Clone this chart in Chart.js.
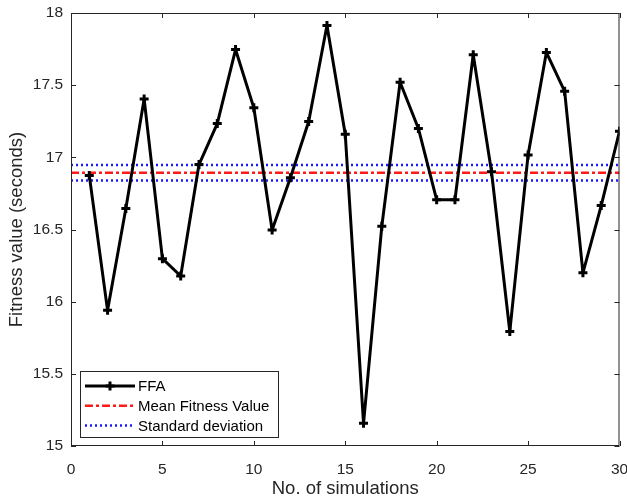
<!DOCTYPE html>
<html>
<head>
<meta charset="utf-8">
<script src="https://cdn.jsdelivr.net/npm/chart.js@4/dist/chart.umd.min.js"></script>
<style>
	html, body { margin: 0; padding: 0; background: #fff; }
	#wrap { width: 627px; height: 503px; }
</style>
</head>
<body>
<div id="wrap"><canvas id="mycanvas" width="627" height="503"></canvas></div>
<script>
// run number 1..30 and the fitness value read for each one
const runs = [1, 2, 3, 4, 5, 6, 7, 8, 9, 10, 11, 12, 13, 14, 15, 16, 17, 18, 19, 20, 21, 22, 23, 24, 25, 26, 27, 28, 29, 30];
const fitness = [16.875, 15.94, 16.646, 17.405, 16.298, 16.178, 16.95, 17.234, 17.747, 17.343,
	16.497, 16.858, 17.248, 17.914, 17.16, 15.157, 16.523, 17.52, 17.2, 16.706,
	16.706, 17.711, 16.9, 15.793, 17.017, 17.727, 17.457, 16.2, 16.666, 17.18];
const meanLevel = [16.893];
const stdLevels = [16.947, 16.84];
const xRange = [0, 30];
const xTicks = [0, 5, 10, 15, 20, 25, 30];
const yTicks = [15, 15.5, 16, 16.5, 17, 17.5, 18];

const axisColor = '#262626';
const fontFamily = 'Arial, "Liberation Sans", sans-serif';

Chart.defaults.font.family = fontFamily;
Chart.defaults.color = axisColor;

// horizontal reference line spanning the x range
const hline = (level) => xRange.map((x) => ({ x, y: level }));

// MATLAB style box with inward ticks on all four sides, plus the legend in the lower left
const boxAndLegend = {
	id: 'boxAndLegend',
	afterDraw(chart) {
		const { ctx, chartArea: a, scales } = chart;
		ctx.save();
		ctx.strokeStyle = axisColor;
		ctx.lineWidth = 1;
		ctx.strokeRect(a.left + 0.5, a.top + 0.5, a.right - a.left - 1, a.bottom - a.top - 1);
		const tl = 5;
		ctx.beginPath();
		xTicks.forEach((v) => {
			const px = Math.round(scales.x.getPixelForValue(v)) + 0.5;
			ctx.moveTo(px, a.bottom); ctx.lineTo(px, a.bottom - tl);
			ctx.moveTo(px, a.top); ctx.lineTo(px, a.top + tl);
		});
		yTicks.forEach((v) => {
			const py = Math.round(scales.y.getPixelForValue(v)) + 0.5;
			ctx.moveTo(a.left, py); ctx.lineTo(a.left + tl, py);
			ctx.moveTo(a.right, py); ctx.lineTo(a.right - tl, py);
		});
		ctx.stroke();

		// legend
		const entries = chart.data.datasets.filter((d) => !d.hideInLegend);
		const bx = a.left + 9, by = a.bottom - 75, bw = 198, bh = 66;
		ctx.fillStyle = '#fff';
		ctx.fillRect(bx, by, bw, bh);
		ctx.strokeRect(bx + 0.5, by + 0.5, bw, bh);
		ctx.font = '15px ' + fontFamily;
		ctx.textBaseline = 'middle';
		entries.forEach((d, i) => {
			const cy = by + 15 + i * 19.7;
			ctx.save();
			ctx.strokeStyle = d.borderColor;
			ctx.lineWidth = d.borderWidth;
			ctx.setLineDash(d.borderDash || []);
			ctx.beginPath();
			ctx.moveTo(bx + 5, cy);
			ctx.lineTo(bx + 55, cy);
			ctx.stroke();
			if (d.pointStyle === 'cross') {
				ctx.setLineDash([]);
				ctx.lineWidth = d.pointBorderWidth;
				ctx.beginPath();
				ctx.moveTo(bx + 30, cy - 4.5); ctx.lineTo(bx + 30, cy + 4.5);
				ctx.moveTo(bx + 25.5, cy); ctx.lineTo(bx + 34.5, cy);
				ctx.stroke();
			}
			ctx.restore();
			ctx.fillStyle = '#000';
			ctx.fillText(d.label, bx + 58, cy + 1);
		});
		ctx.restore();
	},
};

new Chart(document.getElementById('mycanvas'), {
	type: 'line',
	data: {
		datasets: [
			{
				label: 'FFA',
				data: runs.map((r, i) => ({ x: r, y: fitness[i] })),
				borderColor: '#000',
				backgroundColor: '#000',
				borderWidth: 3,
				borderJoinStyle: 'round',
				pointStyle: 'cross',
				pointRadius: 4.5,
				pointBorderWidth: 3,
				pointBorderColor: '#000',
				tension: 0,
				order: 0,
			},
			{
				label: 'Mean Fitness Value',
				data: hline(meanLevel[0]),
				borderColor: '#ff1a1a',
				borderWidth: 2.5,
				borderDash: [8, 3, 3, 3],
				pointRadius: 0,
				order: 1,
			},
			{
				label: 'Standard deviation',
				data: hline(stdLevels[0]),
				borderColor: '#1a1aff',
				borderWidth: 2.5,
				borderDash: [2, 3],
				pointRadius: 0,
				order: 2,
			},
			{
				label: 'Standard deviation',
				data: hline(stdLevels[1]),
				borderColor: '#1a1aff',
				borderWidth: 2.5,
				borderDash: [2, 3],
				pointRadius: 0,
				order: 2,
				hideInLegend: true,
			},
		],
	},
	options: {
		responsive: false,
		animation: false,
		devicePixelRatio: 1,
		layout: { padding: { left: 0, top: 13, right: 7, bottom: 0 } },
		plugins: {
			legend: { display: false },
			tooltip: { enabled: false },
		},
		scales: {
			x: {
				type: 'linear',
				min: xRange[0],
				max: xRange[1],
				afterBuildTicks: (scale) => { scale.ticks = xTicks.map((v) => ({ value: v })); },
				ticks: { font: { size: 15.5 }, padding: 14, maxRotation: 0, autoSkip: false, callback: (v) => String(v) },
				grid: { display: false, drawTicks: false },
				border: { display: false },
				title: { display: true, text: 'No. of simulations', font: { size: 18.5 }, padding: { top: 0, bottom: 3 } },
				afterFit: (scale) => { scale.height = 57; scale.paddingLeft = 0; scale.paddingRight = 0; },
			},
			y: {
				min: 15,
				max: 18,
				afterBuildTicks: (scale) => { scale.ticks = yTicks.map((v) => ({ value: v })); },
				ticks: { font: { size: 15.5 }, padding: 8, autoSkip: false, callback: (v) => String(v) },
				grid: { display: false, drawTicks: false },
				border: { display: false },
				title: { display: true, text: 'Fitness value (seconds)', font: { size: 18.5 }, padding: { top: 6, bottom: 0 } },
				afterFit: (scale) => { scale.width = 71; scale.paddingTop = 0; scale.paddingBottom = 0; },
			},
		},
	},
	plugins: [boxAndLegend],
});
</script>
</body>
</html>
